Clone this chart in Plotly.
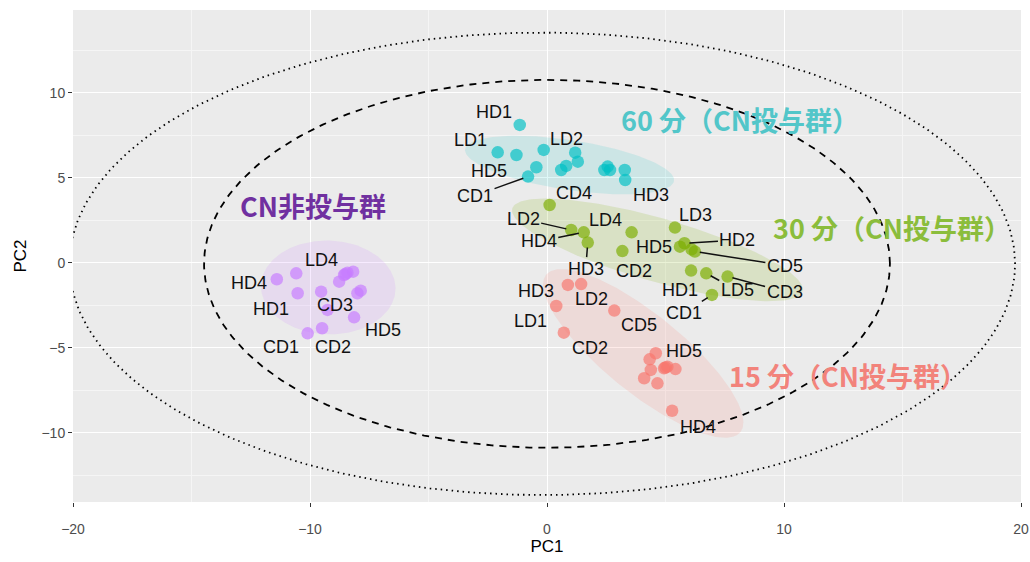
import numpy as np
import plotly.graph_objects as go

# ---------------- data ----------------
g60_names = ["HD1", "LD1", "HD5", "LD3", "LD2", "HD2", "LD4", "CD4", "LD5", "CD1", "CD2", "CD3", "CD5", "HD4", "HD3"]
g60_pc1 = [-1.15, -2.08, -1.29, -0.14, 1.19, 1.30, 0.81, 0.60, -0.45, -0.80, 2.56, 2.66, 2.42, 3.28, 3.30]
g60_pc2 = [8.12, 6.51, 6.35, 6.65, 6.49, 5.96, 5.71, 5.47, 5.63, 5.08, 5.67, 5.47, 5.47, 5.47, 4.88]

g30_names = ["LD1", "LD2", "HD4", "HD3", "LD4", "CD2", "LD3", "HD5", "HD2", "CD5", "CD4", "HD1", "LD5", "CD3", "CD1"]
g30_pc1 = [0.11, 1.02, 1.55, 1.72, 3.57, 3.18, 5.40, 5.61, 5.80, 6.24, 6.10, 6.08, 6.72, 7.62, 6.96]
g30_pc2 = [3.41, 1.94, 1.80, 1.20, 1.80, 0.70, 2.08, 0.96, 1.16, 0.67, 0.80, -0.45, -0.61, -0.80, -1.88]

g15_names = ["HD3", "LD2", "LD1", "CD5", "CD2", "HD5", "HD1", "LD3", "LD4", "LD5", "CD1", "CD3", "CD4", "HD2", "HD4"]
g15_pc1 = [0.88, 1.44, 0.39, 2.84, 0.71, 4.59, 4.33, 4.94, 5.08, 5.42, 4.38, 4.10, 4.66, 5.00, 5.28]
g15_pc2 = [-1.29, -1.24, -2.53, -2.80, -4.10, -5.31, -5.67, -6.20, -6.10, -6.24, -6.29, -6.78, -7.08, -6.15, -8.69]

g0_names = ["HD4", "LD4", "HD1", "CD3", "LD1", "LD2", "LD3", "LD5", "HD2", "HD3", "CD4", "HD5", "CD2", "CD1", "CD5"]
g0_pc1 = [-11.40, -10.58, -10.52, -9.53, -8.77, -8.56, -8.42, -8.18, -8.00, -7.86, -9.26, -8.14, -9.49, -10.10, -8.50]
g0_pc2 = [-0.96, -0.61, -1.78, -1.69, -1.10, -0.71, -0.57, -0.51, -1.78, -1.63, -2.76, -3.20, -3.84, -4.14, -0.65]

group_titles = ["60 分（CN投与群）", "30 分（CN投与群）", "15 分（CN投与群）", "CN非投与群"]

# group confidence ellipses: centre, semi-axes, angle (data units / degrees)
ell_cx = [0.95, 4.66, 4.06, -9.23]
ell_cy = [5.76, 0.77, -5.32, -1.44]
ell_a = [4.51, 6.60, 6.22, 2.85]
ell_b = [1.45, 1.80, 1.95, 2.75]
ell_ang = [-12.6, -22.5, -50.6, -20.0]

# overall ellipses (dashed / dotted)
outer_cx = [0.0, -0.2]
outer_cy = [-0.05, -0.05]
outer_a = [14.47, 19.95]
outer_b = [10.82, 13.60]

x_ticks = [-20, -10, 0, 10, 20]
y_ticks = [-10, -5, 0, 5, 10]

# ---------------- styles ----------------
colors = ["#00BFC4", "#7CAE00", "#F8766D", "#C77CFF"]
fill_colors = ["rgba(0,191,196,0.13)", "rgba(124,174,0,0.16)", "rgba(248,118,109,0.15)", "rgba(199,124,255,0.15)"]
title_colors = ["#52C6C9", "#8BBD3C", "#F2837B", "#7030A0"]
title_pos = [(3.05, 8.41), (9.45, 2.06), (7.60, -6.59), (-13.05, 3.41)]

# label offsets in pixels (dx right, dy down) and whether a leader line is drawn
label_style = [
    {"HD1": (-26, -13, 0), "LD1": (-27, -12, 0), "LD2": (-9, -14, 0), "HD5": (-27, 16, 0),
     "CD1": (-53, 19, 1), "CD4": (13, 23, 0), "HD3": (26, 15, 0)},
    {"LD2": (-48, -11, 1), "HD4": (-45, 9, 1), "HD3": (-2, 26, 1), "LD4": (-26, -12, 0),
     "CD2": (12, 20, 0), "LD3": (21, -13, 0), "HD5": (-26, 0, 0), "HD2": (53, -3, 1),
     "CD5": (90, 14, 1), "HD1": (-11, 19, 0), "LD5": (31, 17, 1), "CD3": (57, 15, 1),
     "CD1": (-28, 18, 1)},
    {"HD3": (-32, 6, 0), "LD2": (10, 15, 0), "LD1": (-26, 15, 0), "CD5": (25, 14, 0),
     "CD2": (26, 15, 0), "HD5": (28, -2, 0), "HD4": (26, 16, 0)},
    {"LD4": (25, -13, 0), "HD4": (-28, 4, 0), "HD1": (-27, 16, 0), "CD3": (14, 13, 0),
     "HD5": (29, 13, 0), "CD1": (-27, 14, 0), "CD2": (11, 19, 0)},
]

groups = [
    (g60_names, g60_pc1, g60_pc2),
    (g30_names, g30_pc1, g30_pc2),
    (g15_names, g15_pc1, g15_pc2),
    (g0_names, g0_pc1, g0_pc2),
]


def ellipse_xy(cx, cy, a, b, ang_deg, n=240):
    t = np.linspace(0, 2 * np.pi, n)
    th = np.radians(ang_deg)
    x = cx + a * np.cos(t) * np.cos(th) - b * np.sin(t) * np.sin(th)
    y = cy + a * np.cos(t) * np.sin(th) + b * np.sin(t) * np.cos(th)
    return x, y


fig = go.Figure()

# group ellipses (filled)
for i in range(4):
    ex, ey = ellipse_xy(ell_cx[i], ell_cy[i], ell_a[i], ell_b[i], ell_ang[i])
    fig.add_trace(go.Scatter(x=ex, y=ey, mode="lines", fill="toself",
                             fillcolor=fill_colors[i], line=dict(width=0),
                             hoverinfo="skip", showlegend=False))

# outer ellipses
dashes = ["7px,6px", "1.5px,4px"]
widths = [1.8, 1.8]
for i in range(2):
    ex, ey = ellipse_xy(outer_cx[i], outer_cy[i], outer_a[i], outer_b[i], 0, n=400)
    fig.add_trace(go.Scatter(x=ex, y=ey, mode="lines",
                             line=dict(color="black", width=widths[i], dash=dashes[i]),
                             hoverinfo="skip", showlegend=False))

# points
for i, (names, px, py) in enumerate(groups):
    fig.add_trace(go.Scatter(x=px, y=py, mode="markers", text=names,
                             marker=dict(size=12.5, color=colors[i], opacity=0.68,
                                         line=dict(width=0)),
                             showlegend=False))

# sample labels
annotations = []
for i, (names, px, py) in enumerate(groups):
    for n, xv, yv in zip(names, px, py):
        if n not in label_style[i]:
            continue
        dx, dy, line = label_style[i][n]
        common = dict(x=xv, y=yv, xref="x", yref="y", text=n,
                      font=dict(family="Liberation Sans, Arial, sans-serif", size=18, color="#111111"))
        if line:
            annotations.append(dict(common, showarrow=True, ax=dx, ay=dy, arrowhead=0,
                                    arrowwidth=1.5, arrowcolor="#111111", standoff=5))
        else:
            annotations.append(dict(common, showarrow=False, xshift=dx, yshift=-dy))

# group titles
for i in range(4):
    annotations.append(dict(x=title_pos[i][0], y=title_pos[i][1], xref="x", yref="y",
                            text="<b>" + group_titles[i] + "</b>", showarrow=False,
                            xanchor="left", yanchor="middle",
                            font=dict(family="Noto Sans CJK JP", size=27, color=title_colors[i])))

fig.update_layout(
    width=1030, height=562,
    margin=dict(l=73, r=9, t=10, b=60),
    paper_bgcolor="white", plot_bgcolor="#EBEBEB",
    annotations=annotations,
    font=dict(family="Liberation Sans, Arial, sans-serif"),
    hovermode="closest",
)
fig.update_xaxes(range=[-20, 20], tickvals=x_ticks, showgrid=True, gridcolor="white", gridwidth=1.2,
                 minor=dict(dtick=5, tick0=0, showgrid=True, gridcolor="#F5F5F5", gridwidth=0.6, ticklen=0),
                 zeroline=False, ticks="outside", ticklen=4, tickwidth=1.1, tickcolor="#333333",
                 tickfont=dict(size=14, color="#4D4D4D"), ticklabelstandoff=10,
                 ticklabeloverflow="allow", automargin=False,
                 title=dict(text="PC1", font=dict(size=17, color="black"), standoff=4),
                 showline=False)
fig.update_yaxes(range=[-14.06, 14.88], tickvals=y_ticks, showgrid=True, gridcolor="white", gridwidth=1.2,
                 minor=dict(dtick=2.5, tick0=0, showgrid=True, gridcolor="#F5F5F5", gridwidth=0.6, ticklen=0),
                 zeroline=False, ticks="outside", ticklen=4, tickwidth=1.1, tickcolor="#333333",
                 tickfont=dict(size=14, color="#4D4D4D"), automargin=False,
                 title=dict(text="PC2", font=dict(size=17, color="black"), standoff=10),
                 showline=False)

fig.write_html("out.html", config={"displayModeBar": False},
               post_script="document.body.style.margin='0';")
